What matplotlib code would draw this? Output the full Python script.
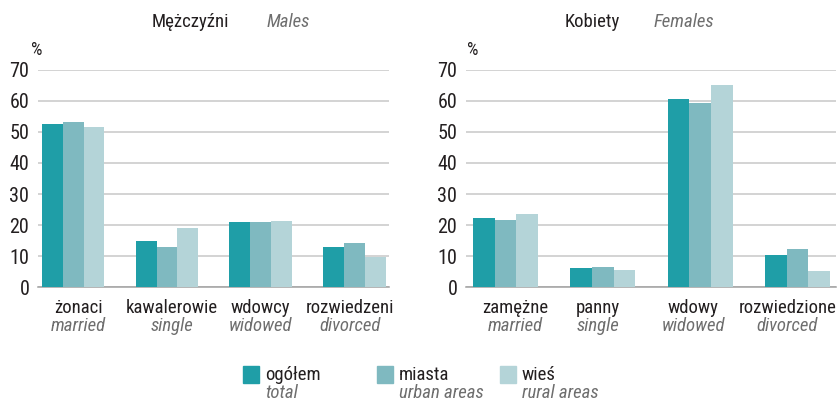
import matplotlib
matplotlib.use('Agg')
import matplotlib.pyplot as plt
from matplotlib import font_manager
from matplotlib.patches import Rectangle

# pick a narrow font if one is installed
names = {f.name for f in font_manager.fontManager.ttflist}
fam = 'DejaVu Sans'
for n in ['Liberation Sans Narrow', 'DejaVu Sans Condensed', 'Roboto Condensed', 'Open Sans Condensed']:
    if n in names:
        fam = n
        break
plt.rcParams['font.family'] = [fam, 'DejaVu Sans']

series_pl = ['ogółem', 'miasta', 'wieś']
series_en = ['total', 'urban areas', 'rural areas']
colors = ['#1f9ea7', '#7fb9c0', '#b4d4d8']

men_cat_pl = ['żonaci', 'kawalerowie', 'wdowcy', 'rozwiedzeni']
men_cat_en = ['married', 'single', 'widowed', 'divorced']
men_total = [52.5, 15.0, 21.0, 13.0]
men_urban = [53.2, 13.0, 21.0, 14.3]
men_rural = [51.6, 19.1, 21.3, 9.9]

women_cat_pl = ['zamężne', 'panny', 'wdowy', 'rozwiedzione']
women_cat_en = ['married', 'single', 'widowed', 'divorced']
women_total = [22.3, 6.2, 60.6, 10.4]
women_urban = [21.7, 6.5, 59.3, 12.3]
women_rural = [23.6, 5.6, 65.1, 5.3]

yticks = [0, 10, 20, 30, 40, 50, 60, 70]

W, H = 839, 404
fig = plt.figure(figsize=(W / 100, H / 100), dpi=100)

gray = '#6e6e6e'
dark = '#231f20'
fs = 13.5


def panel(rect, xlim, cats_pl, cats_en, vals, title_pl, title_en, tx_pl, tx_en, pct_x, shifts):
    ax = fig.add_axes(rect)
    w = 0.222
    for k, v in enumerate(vals):
        ax.bar([i + (k - 1) * w for i in range(len(v))], v, width=w,
               color=colors[k], zorder=3)
    ax.set_xlim(xlim)
    ax.set_ylim(0, 70)
    ax.set_yticks(yticks)
    ax.set_yticklabels([str(t) for t in yticks], fontsize=14.5, color=dark)
    ax.yaxis.grid(True, color='#c8c8c8', linewidth=1.1)
    ax.set_axisbelow(True)
    for s in ['top', 'right', 'left']:
        ax.spines[s].set_visible(False)
    ax.spines['bottom'].set_color('#a0a0a0')
    ax.spines['bottom'].set_linewidth(1.1)
    ax.tick_params(axis='y', length=0, pad=6)
    ax.set_xticks([])
    # labels are nudged sideways a little, as in the original layout
    for i in range(len(cats_pl)):
        dx = shifts[i] * 0.72
        ax.annotate(cats_pl[i], xy=(i, 0), xycoords=('data', 'axes fraction'),
                    xytext=(dx, -15), textcoords='offset points',
                    ha='center', va='center', fontsize=fs, color=dark)
        ax.annotate(cats_en[i], xy=(i, 0), xycoords=('data', 'axes fraction'),
                    xytext=(dx, -28), textcoords='offset points',
                    ha='center', va='center', fontsize=fs, color=gray, style='italic')
    fig.text(tx_pl / W, 1 - 22 / H, title_pl, ha='center', va='center', fontsize=fs, color=dark)
    fig.text(tx_en / W, 1 - 22 / H, title_en, ha='center', va='center', fontsize=fs,
             color=gray, style='italic')
    fig.text(pct_x / W, 1 - 50 / H, '%', ha='center', va='center', fontsize=13, color=dark)
    return ax


panel([37.7 / W, (H - 287.3) / H, 351.3 / W, 217.6 / H], (-0.38, 3.37),
      men_cat_pl, men_cat_en, [men_total, men_urban, men_rural],
      'Mężczyźni', 'Males', 190, 288, 37, [5, 5, 0, -4])
panel([465.7 / W, (H - 287.3) / H, 370 / W, 217.6 / H], (-0.409, 3.393),
      women_cat_pl, women_cat_en, [women_total, women_urban, women_rural],
      'Kobiety', 'Females', 592, 684, 473, [10, -5, -7, -10])

# legend
leg_x = [243, 377, 500]
for k in range(3):
    x = leg_x[k]
    fig.add_artist(Rectangle((x / W, 1 - 383 / H), 16 / W, 17 / H,
                             transform=fig.transFigure, color=colors[k]))
    fig.text((x + 22) / W, 1 - 375 / H, series_pl[k], ha='left', va='center',
             fontsize=fs, color=dark)
    fig.text((x + 22) / W, 1 - 393 / H, series_en[k], ha='left', va='center',
             fontsize=fs, color=gray, style='italic')

fig.savefig('out.png', dpi=100)
